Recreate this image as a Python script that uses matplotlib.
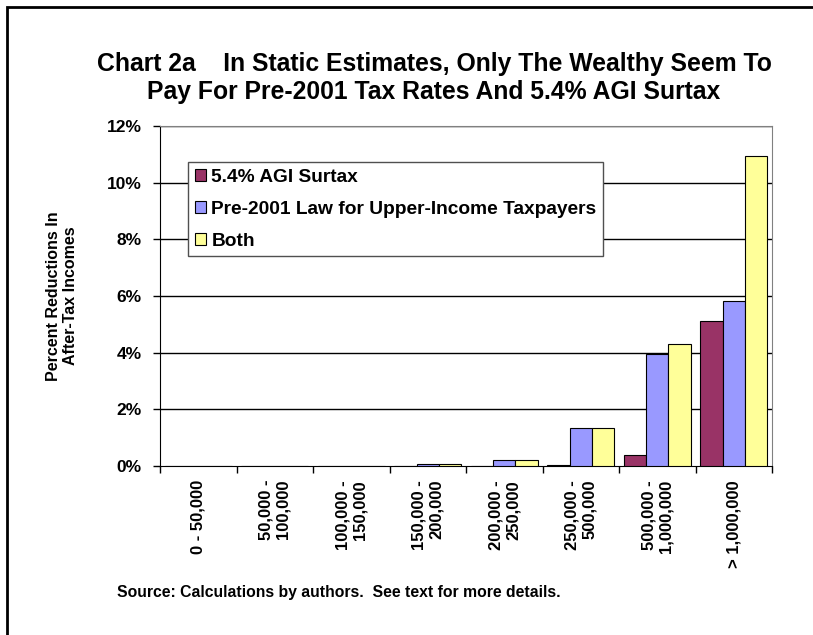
import numpy as np
import matplotlib.pyplot as plt
from matplotlib.patches import Rectangle

plt.rcParams['font.family'] = ['Liberation Sans', 'DejaVu Sans']
plt.rcParams['font.weight'] = 'bold'

# Income brackets and percent reductions in after-tax income
brackets = ['0 - 50,000', '50,000 -\n100,000', '100,000 -\n150,000',
            '150,000 -\n200,000', '200,000 -\n250,000', '250,000 -\n500,000',
            '500,000 -\n1,000,000', '> 1,000,000']
surtax = [0.0, 0.0, 0.0, 0.005, 0.0, 0.02, 0.39, 5.12]
pre2001 = [0.0, 0.0, 0.0, 0.06, 0.21, 1.35, 3.94, 5.82]
both = [0.0, 0.0, 0.0, 0.06, 0.21, 1.35, 4.30, 10.93]
series_names = ['5.4% AGI Surtax', 'Pre-2001 Law for Upper-Income Taxpayers', 'Both']
colors = ['#993366', '#9999FF', '#FFFF99']
yticks = [0, 2, 4, 6, 8, 10, 12]

fig = plt.figure(figsize=(8.13, 6.35), dpi=100)
ax = fig.add_axes([0.1968, 0.2661, 0.7528, 0.5355])

# outer frame around the chart (only top/left edges fall inside the canvas)
fig.patches.append(Rectangle((7 / 813, -0.1), 1.2, 1 - 7 / 635 + 0.1,
                             transform=fig.transFigure, fill=False,
                             edgecolor='black', linewidth=2))

x = np.arange(len(brackets))
w = 0.29
for i, (vals, name, col) in enumerate(zip([surtax, pre2001, both], series_names, colors)):
    ax.bar(x + (i - 1) * w, vals, w, color=col, edgecolor='black',
           linewidth=0.8, label=name, zorder=3)

ax.set_xlim(-0.5, len(brackets) - 0.5)
ax.set_ylim(0, 12)
ax.set_yticks(yticks)
ax.set_yticklabels(['%d%%' % t for t in yticks], fontsize=12.5, fontweight='bold')
for t in yticks[1:]:
    ax.axhline(t, color='black', linewidth=1, zorder=1)

ax.set_xticks(x)
ax.set_xticklabels(brackets, rotation=90, fontsize=12, fontweight='bold',
                   va='top', ha='center', multialignment='right')
ax.set_xticks(np.arange(-0.5, len(brackets)), minor=True)
ax.tick_params(axis='x', which='major', length=0, pad=10)
ax.tick_params(axis='x', which='minor', length=5, direction='out', width=1)
ax.tick_params(axis='y', length=5, direction='out', width=1, pad=8)

for side in ['top', 'right']:
    ax.spines[side].set_color('#808080')
ax.spines['left'].set_color('black')
ax.spines['bottom'].set_color('black')

fig.text(62 / 813, 1 - 296 / 635, 'Percent Reductions In\nAfter-Tax Incomes',
         rotation=90, ha='center', va='center', fontsize=11.5,
         fontweight='bold', multialignment='center')

leg = ax.legend(loc='upper left', bbox_to_anchor=(28 / 612, 304 / 340),
                borderaxespad=0, prop={'weight': 'bold', 'size': 13.8},
                fancybox=False, framealpha=1, edgecolor='#505050',
                handlelength=0.57, handleheight=0.57, handletextpad=0.3,
                labelspacing=0.78, borderpad=0.35)
leg.get_frame().set_linewidth(1)
leg.set_zorder(5)

fig.text(434 / 813, 0.877, 'Chart 2a    In Static Estimates, Only The Wealthy Seem To\n'
         'Pay For Pre-2001 Tax Rates And 5.4% AGI Surtax',
         ha='center', va='center', fontsize=17.8, fontweight='bold',
         linespacing=1.2)
fig.text(117 / 813, 1 - 593 / 635, 'Source: Calculations by authors.  See text for more details.',
         ha='left', va='center', fontsize=11.3, fontweight='bold')

fig.savefig('out.png', dpi=100)
